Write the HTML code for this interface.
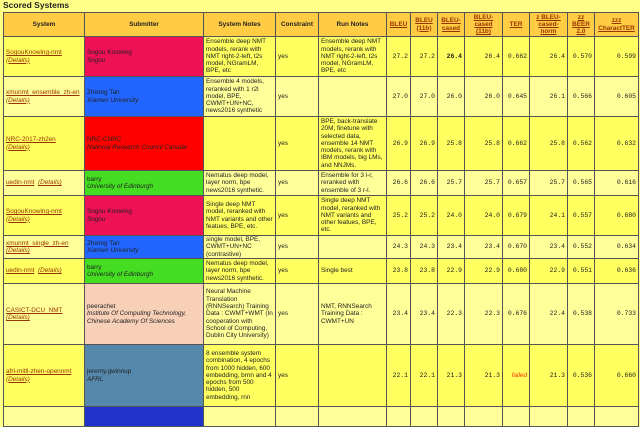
<!DOCTYPE html>
<html><head><meta charset="utf-8"><style>
body{margin:0;background:#ffff88;width:640px;height:410px;overflow:hidden;font-family:"Liberation Sans",sans-serif;font-size:6.4px;color:#222;}
h3{position:absolute;left:3px;top:0;margin:0;font-size:8.5px;font-weight:bold;}
table{position:absolute;left:3px;top:12px;border-collapse:collapse;table-layout:fixed;width:635px;}
td,th{border:1px solid #555;padding:0 2px;line-height:7.3px;vertical-align:middle;overflow:hidden;}
th{background:#ffcc44;font-size:6.4px;height:23px;text-align:center;}
th a,td a{color:#993300;text-decoration:underline;}
tr.a td{background:#ffff60;}
tr.b td{background:#ffff99;}
td.n{font-family:"Liberation Mono",monospace;font-size:6.4px;text-align:right;}
i{font-style:italic;}
td.c1{background:#ee1155 !important;}
td.c2{background:#2266ff !important;}
td.c3{background:#ff0000 !important;}
td.c4{background:#44dd22 !important;}
td.c5{background:#f8d0b8 !important;}
td.c6{background:#5588aa !important;}
td.c7{background:#2233cc !important;}
.f{color:#ff3300;font-style:italic;font-family:"Liberation Sans",sans-serif;}
</style></head><body>
<h3>Scored Systems</h3>
<table>
<colgroup><col style="width:81px"><col style="width:119px"><col style="width:72px"><col style="width:43px"><col style="width:68px"><col style="width:24px"><col style="width:27px"><col style="width:27px"><col style="width:38px"><col style="width:27px"><col style="width:38px"><col style="width:27px"><col style="width:44px"></colgroup>
<tr><th>System</th><th>Submitter</th><th>System Notes</th><th>Constraint</th><th>Run Notes</th><th><a>BLEU</a></th><th><a>BLEU (11b)</a></th><th><a>BLEU-cased</a></th><th><a>BLEU-cased (11b)</a></th><th><a>TER</a></th><th><a>z BLEU-cased-norm</a></th><th><a>zz BEER 2.0</a></th><th><a>zzz CharactTER</a></th></tr>
<tr class="a" style="height:40px"><td><a>SogouKnowing-nmt</a><br><a><i>(Details)</i></a></td><td class="c1">Sogou Knowing<br><i>Sogou</i></td><td>Ensemble deep NMT models, rerank with NMT right-2-left, t2s model, NGramLM, BPE, etc</td><td>yes</td><td>Ensemble deep NMT models, rerank with NMT right-2-left, t2s model, NGramLM, BPE, etc</td><td class="n">27.2</td><td class="n">27.2</td><td class="n"><b>26.4</b></td><td class="n">26.4</td><td class="n">0.662</td><td class="n">26.4</td><td class="n">0.570</td><td class="n">0.599</td></tr>
<tr class="b" style="height:40px"><td><a>xmunmt_ensemble_zh-en</a> <a><i>(Details)</i></a></td><td class="c2">Zhixing Tan<br><i>Xiamen University</i></td><td>Ensemble 4 models, reranked with 1 r2l model, BPE, CWMT+UN+NC, news2016 synthetic</td><td>yes</td><td></td><td class="n">27.0</td><td class="n">27.0</td><td class="n">26.0</td><td class="n">26.0</td><td class="n">0.645</td><td class="n">26.1</td><td class="n">0.566</td><td class="n">0.605</td></tr>
<tr class="a" style="height:54px"><td><a>NRC-2017-zh2en</a><br><a><i>(Details)</i></a></td><td class="c3">NRC-CNRC<br><i>National Research Council Canada</i></td><td></td><td>yes</td><td>BPE, back-translate 20M, finetune with selected data, ensemble 14 NMT models, rerank with IBM models, big LMs, and NNJMs.</td><td class="n">26.9</td><td class="n">26.9</td><td class="n">25.8</td><td class="n">25.8</td><td class="n">0.662</td><td class="n">25.8</td><td class="n">0.562</td><td class="n">0.632</td></tr>
<tr class="b" style="height:25px"><td><a>uedin-nmt</a> &nbsp;<a><i>(Details)</i></a></td><td class="c4">barry<br><i>University of Edinburgh</i></td><td>Nematus deep model, layer norm, bpe news2016 synthetic.</td><td>yes</td><td>Ensemble for 3 l-r, reranked with ensemble of 3 r-l.</td><td class="n">26.6</td><td class="n">26.6</td><td class="n">25.7</td><td class="n">25.7</td><td class="n">0.657</td><td class="n">25.7</td><td class="n">0.565</td><td class="n">0.616</td></tr>
<tr class="a" style="height:40px"><td><a>SogouKnowing-nmt</a><br><a><i>(Details)</i></a></td><td class="c1">Sogou Knowing<br><i>Sogou</i></td><td>Single deep NMT model, reranked with NMT variants and other featues, BPE, etc.</td><td>yes</td><td>Single deep NMT model, reranked with NMT variants and other featues, BPE, etc.</td><td class="n">25.2</td><td class="n">25.2</td><td class="n">24.0</td><td class="n">24.0</td><td class="n">0.679</td><td class="n">24.1</td><td class="n">0.557</td><td class="n">0.680</td></tr>
<tr class="b" style="height:23px"><td><a>xmunmt_single_zh-en</a><br><a><i>(Details)</i></a></td><td class="c2">Zhixing Tan<br><i>Xiamen University</i></td><td>single model, BPE, CWMT+UN+NC (contrastive)</td><td>yes</td><td></td><td class="n">24.3</td><td class="n">24.3</td><td class="n">23.4</td><td class="n">23.4</td><td class="n">0.670</td><td class="n">23.4</td><td class="n">0.552</td><td class="n">0.634</td></tr>
<tr class="a" style="height:25px"><td><a>uedin-nmt</a> &nbsp;<a><i>(Details)</i></a></td><td class="c4">barry<br><i>University of Edinburgh</i></td><td>Nematus deep model, layer norm, bpe news2016 synthetic.</td><td>yes</td><td>Single best</td><td class="n">23.8</td><td class="n">23.8</td><td class="n">22.9</td><td class="n">22.9</td><td class="n">0.680</td><td class="n">22.9</td><td class="n">0.551</td><td class="n">0.636</td></tr>
<tr class="b" style="height:61px"><td><a>CASICT-DCU_NMT</a><br><a><i>(Details)</i></a></td><td class="c5">peerachet<br><i>Institute Of Computing Technology, Chinese Academy Of Sciences</i></td><td>Neural Machine Translation (RNNSearch) Training Data : CWMT+WMT (In cooperation with School of Computing, Dublin City University)</td><td>yes</td><td>NMT, RNNSearch Training Data : CWMT+UN</td><td class="n">23.4</td><td class="n">23.4</td><td class="n">22.3</td><td class="n">22.3</td><td class="n">0.676</td><td class="n">22.4</td><td class="n">0.538</td><td class="n">0.733</td></tr>
<tr class="a" style="height:62px"><td><a>afrl-mitll-zhen-opennmt</a><br><a><i>(Details)</i></a></td><td class="c6">jeremy.gwinnup<br><i>AFRL</i></td><td>8 ensemble system combination, 4 epochs from 1000 hidden, 600 embedding, brnn and 4 epochs from 500 hidden, 500 embedding, rnn</td><td>yes</td><td></td><td class="n">22.1</td><td class="n">22.1</td><td class="n">21.3</td><td class="n">21.3</td><td class="n"><span class="f">failed</span></td><td class="n">21.3</td><td class="n">0.536</td><td class="n">0.660</td></tr>
<tr class="b" style="height:20px"><td></td><td class="c7"></td><td></td><td></td><td></td><td></td><td></td><td></td><td></td><td></td><td></td><td></td><td></td></tr>
</table>
</body></html>
